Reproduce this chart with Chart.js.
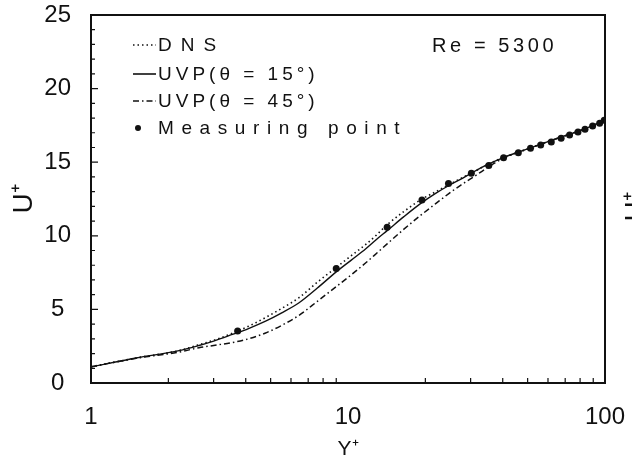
<!DOCTYPE html>
<html><head><meta charset="utf-8">
<script src="https://cdn.jsdelivr.net/npm/chart.js@4.4.0/dist/chart.umd.min.js"></script>
<style>html,body{margin:0;padding:0;background:#fff}#wrap{width:632px;height:464px}</style>
</head><body><div id="wrap"><canvas id="c" width="632" height="464"></canvas></div>
<script>
// ---- data ----
const yPlus  = [1, 1.5, 2.2, 2.63, 3.0, 3.55, 4.1, 4.78, 5.5, 6.45, 7.6, 9.0, 10.3, 11.7, 12.9, 14.2, 16.5, 19.2, 22, 24.6, 27.5, 30.5, 35, 40, 50, 60, 70, 80, 90, 100];
const dnsU   = [1.1, 1.7, 2.2, 2.6, 2.9, 3.38, 3.85, 4.45, 5.05, 5.8, 6.85, 7.85, 8.65, 9.4, 10.05, 10.75, 11.65, 12.45, 13.0, 13.45, 13.9, 14.3, 14.85, 15.3, 15.9, 16.4, 16.8, 17.15, 17.5, 17.9];
const uvp15U = [1.1, 1.7, 2.2, 2.55, 2.85, 3.3, 3.7, 4.2, 4.75, 5.45, 6.45, 7.55, 8.35, 9.1, 9.75, 10.35, 11.3, 12.2, 12.9, 13.4, 13.85, 14.3, 14.85, 15.3, 15.9, 16.4, 16.8, 17.15, 17.5, 17.9];
const uvp45U = [1.1, 1.68, 2.1, 2.4, 2.55, 2.75, 3.0, 3.4, 3.9, 4.6, 5.55, 6.55, 7.35, 8.15, 8.8, 9.45, 10.45, 11.4, 12.2, 12.85, 13.45, 13.95, 14.65, 15.25, 15.9, 16.4, 16.8, 17.15, 17.5, 17.9];
const measYPlus = [3.72, 9.0, 14.2, 19.4, 24.6, 30.2, 35.3, 40.3, 46, 51.3, 56.2, 61.8, 67.5, 72.8, 78.5, 83.6, 89.5, 95.3, 99.3];
const measU     = [3.53, 7.78, 10.58, 12.43, 13.55, 14.25, 14.78, 15.31, 15.65, 15.94, 16.17, 16.37, 16.63, 16.85, 17.05, 17.23, 17.46, 17.64, 17.85];
const xTicks = [1, 10, 100];
const yTicks = [0, 5, 10, 15, 20, 25];
const xMinorTicks = [2, 3, 4, 5, 6, 7, 8, 9, 20, 30, 40, 50, 60, 70, 80, 90];
const yMinorTicks = [1, 2, 3, 4, 5, 6, 7, 8, 9, 10, 11, 12, 13, 14, 15, 16, 17, 18, 19, 20, 21, 22, 23, 24];
const seriesNames = ['DNS', 'UVP(\u03B8 = 15\u00B0)', 'UVP(\u03B8 = 45\u00B0)', 'Measuring point'];
const annotation = 'Re = 5300';
const xTitle = 'Y\u207A';
const yTitle = 'U\u207A';

const INK = '#111';
const FONT = '"Liberation Sans", Arial, Helvetica, sans-serif';
const dashes = [[1.5, 3], [], [6, 3, 1.5, 3], null];

const pts = (xs, ys) => xs.map((x, i) => ({x: x, y: ys[i]}));

const frameAndTicks = {
  id: 'frameAndTicks',
  afterDatasetsDraw(chart) {
    const {ctx, chartArea: a, scales: {x, y}} = chart;
    ctx.save();
    ctx.strokeStyle = INK;
    ctx.lineWidth = 2;
    ctx.strokeRect(a.left, a.top, a.right - a.left, a.bottom - a.top);
    ctx.lineWidth = 1.2;
    ctx.beginPath();
    xMinorTicks.forEach(v => { const px = x.getPixelForValue(v); ctx.moveTo(px, a.bottom); ctx.lineTo(px, a.bottom - 5); });
    yMinorTicks.forEach(v => { const py = y.getPixelForValue(v); const L = (v % 5 === 0) ? 7 : 4; ctx.moveTo(a.left, py); ctx.lineTo(a.left + L, py); });
    ctx.stroke();
    ctx.restore();
  }
};

const legendAndNotes = {
  id: 'legendAndNotes',
  afterDraw(chart) {
    const ctx = chart.ctx;
    const rows = [45, 74, 101, 128];
    const spacing = ['9px', '4px', '4px', '7.6px'];
    ctx.save();
    ctx.fillStyle = INK; ctx.strokeStyle = INK;
    ctx.textBaseline = 'middle';
    seriesNames.forEach((name, i) => {
      const yy = rows[i];
      if (dashes[i]) {
        ctx.lineWidth = 1.6;
        ctx.setLineDash(dashes[i]);
        ctx.beginPath(); ctx.moveTo(133, yy); ctx.lineTo(156, yy); ctx.stroke();
        ctx.setLineDash([]);
      } else {
        ctx.beginPath(); ctx.arc(138, yy, 3, 0, Math.PI * 2); ctx.fill();
      }
      ctx.font = '19px ' + FONT;
      ctx.letterSpacing = spacing[i];
      ctx.textAlign = 'left';
      ctx.fillText(name, 158, yy + 1);
    });
    ctx.font = '20px ' + FONT;
    ctx.letterSpacing = '3.6px';
    ctx.fillText(annotation, 432, 46);
    // fragment of neighbouring figure's axis title at right edge
    ctx.letterSpacing = '0px';
    ctx.font = '28px ' + FONT;
    ctx.translate(636, 207);
    ctx.rotate(-Math.PI / 2);
    ctx.textAlign = 'center';
    ctx.fillText(yTitle, 0, 0);
    ctx.restore();
  }
};

const noScalePadding = s => { s.paddingLeft = 0; s.paddingRight = 0; s.paddingTop = 0; s.paddingBottom = 0; };

new Chart(document.getElementById('c'), {
  type: 'scatter',
  data: {
    datasets: [
      {label: seriesNames[0], data: pts(yPlus, dnsU), showLine: true, borderColor: INK, borderWidth: 1.6, borderDash: dashes[0], pointRadius: 0, cubicInterpolationMode: 'monotone'},
      {label: seriesNames[1], data: pts(yPlus, uvp15U), showLine: true, borderColor: INK, borderWidth: 1.4, pointRadius: 0, cubicInterpolationMode: 'monotone'},
      {label: seriesNames[2], data: pts(yPlus, uvp45U), showLine: true, borderColor: INK, borderWidth: 1.5, borderDash: dashes[2], pointRadius: 0, cubicInterpolationMode: 'monotone'},
      {label: seriesNames[3], data: pts(measYPlus, measU), showLine: false, pointRadius: 3.5, pointBackgroundColor: INK, pointBorderWidth: 0}
    ]
  },
  options: {
    responsive: false, animation: false, devicePixelRatio: 1,
    layout: {padding: {top: 15, right: 27, bottom: 0, left: 0}},
    plugins: {legend: {display: false}, tooltip: {enabled: false}},
    scales: {
      x: {
        type: 'logarithmic', min: 1, max: 100, position: 'bottom',
        grid: {display: false, drawTicks: false, tickLength: 0}, border: {display: false},
        afterBuildTicks: s => { s.ticks = xTicks.map(v => ({value: v})); },
        afterFit: s => { s.height = 81; noScalePadding(s); },
        ticks: {color: INK, font: {family: FONT, size: 24}, padding: 20, maxRotation: 0, autoSkip: false, callback: v => String(v)},
        title: {display: true, text: xTitle, color: INK, font: {family: FONT, size: 21}, padding: {top: 0, bottom: 2}}
      },
      y: {
        type: 'linear', min: 0, max: 25,
        grid: {display: false, drawTicks: false, tickLength: 0}, border: {display: false},
        afterBuildTicks: s => { s.ticks = yTicks.map(v => ({value: v})); },
        afterFit: s => { s.width = 91; noScalePadding(s); },
        ticks: {color: INK, font: {family: FONT, size: 24}, padding: 20, crossAlign: 'center', callback: v => String(v)},
        title: {display: true, text: yTitle, color: INK, font: {family: FONT, size: 28}, padding: {top: 7, bottom: 0}}
      }
    }
  },
  plugins: [frameAndTicks, legendAndNotes]
});
</script>
</body></html>
